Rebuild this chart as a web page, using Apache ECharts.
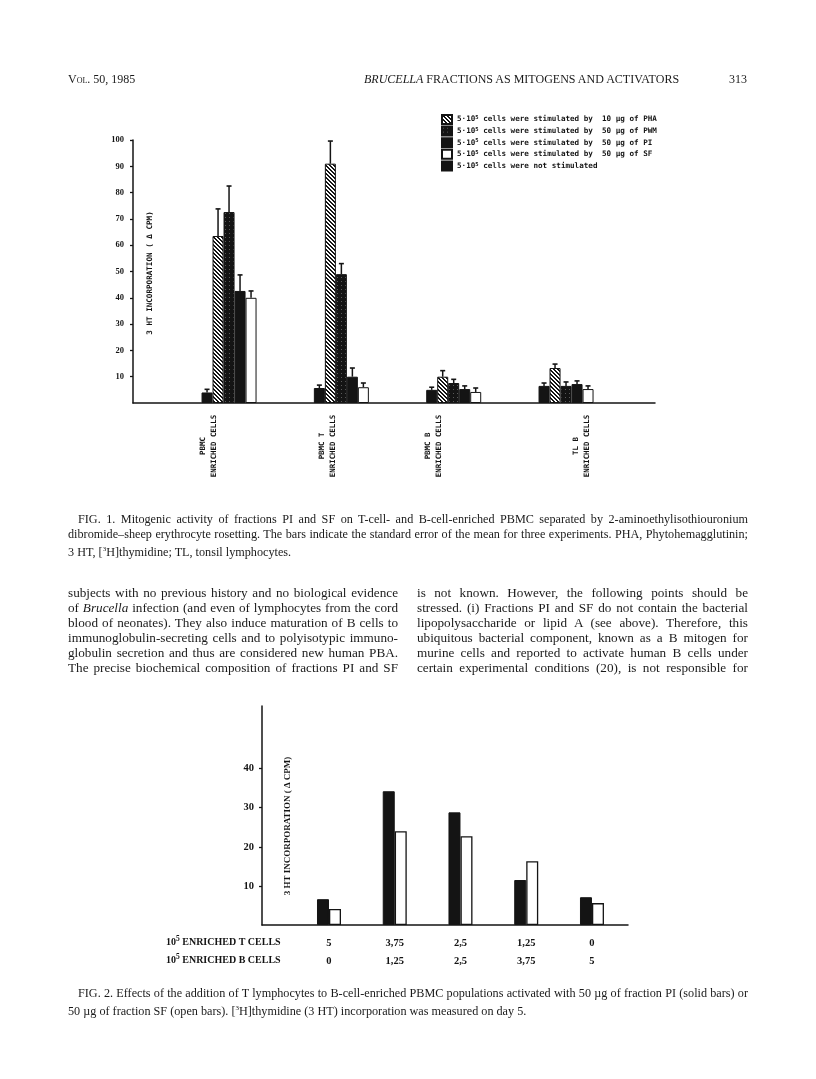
<!DOCTYPE html>
<html>
<head>
<meta charset="utf-8">
<script src="https://cdn.jsdelivr.net/npm/echarts@6/dist/echarts.min.js"></script>
<style>
	body { margin: 0; background: #fff; }
	#page { position: relative; width: 816px; height: 1079px; overflow: hidden; font-family: 'Liberation Serif', serif; color: #1a1a1a; }
	#chart { position: absolute; left: 0; top: 0; width: 816px; height: 1079px; }
	.t { position: absolute; white-space: nowrap; }
	.jl { text-align: justify; text-align-last: justify; white-space: nowrap; }
	.sc { font-variant: small-caps; }
</style>
</head>
<body>
<div id="page">
	<div id="chart"></div>

	<div class="t" style="left:68px;top:72px;font-size:12px;"><span class="sc">Vol</span>. 50, 1985</div>
	<div class="t" style="left:364px;top:72px;font-size:12px;"><i>BRUCELLA</i> FRACTIONS AS MITOGENS AND ACTIVATORS</div>
	<div class="t" style="left:729px;top:72px;font-size:12px;">313</div>

	<div style="position:absolute;left:68px;top:512px;width:680px;font-size:12.2px;line-height:15px;">
		<div class="jl" style="padding-left:10px;">FIG. 1. Mitogenic activity of fractions PI and SF on T-cell- and B-cell-enriched PBMC separated by 2-aminoethylisothiouronium</div>
		<div class="jl">dibromide–sheep erythrocyte rosetting. The bars indicate the standard error of the mean for three experiments. PHA, Phytohemagglutinin;</div>
		<div>3 HT, [<sup style="font-size:7px;">3</sup>H]thymidine; TL, tonsil lymphocytes.</div>
	</div>

	<div style="position:absolute;left:68px;top:585px;width:330px;font-size:13.2px;line-height:15px;">
		<div class="jl">subjects with no previous history and no biological evidence</div>
		<div class="jl">of <i>Brucella</i> infection (and even of lymphocytes from the cord</div>
		<div class="jl">blood of neonates). They also induce maturation of B cells to</div>
		<div class="jl">immunoglobulin-secreting cells and to polyisotypic immuno-</div>
		<div class="jl">globulin secretion and thus are considered new human PBA.</div>
		<div class="jl">The precise biochemical composition of fractions PI and SF</div>
	</div>
	<div style="position:absolute;left:417px;top:585px;width:331px;font-size:13.2px;line-height:15px;">
		<div class="jl">is not known. However, the following points should be</div>
		<div class="jl">stressed. (i) Fractions PI and SF do not contain the bacterial</div>
		<div class="jl">lipopolysaccharide or lipid A (see above). Therefore, this</div>
		<div class="jl">ubiquitous bacterial component, known as a B mitogen for</div>
		<div class="jl">murine cells and reported to activate human B cells under</div>
		<div class="jl">certain experimental conditions (20), is not responsible for</div>
	</div>

	<div style="position:absolute;left:68px;top:986px;width:680px;font-size:12.2px;line-height:15px;">
		<div class="jl" style="padding-left:10px;">FIG. 2. Effects of the addition of T lymphocytes to B-cell-enriched PBMC populations activated with 50 µg of fraction PI (solid bars) or</div>
		<div>50 µg of fraction SF (open bars). [<sup style="font-size:7px;">3</sup>H]thymidine (3 HT) incorporation was measured on day 5.</div>
	</div>
</div>
<script>
	// fig 1 : groups and bar heights (with top of error bar)
	const groups1 = ['PBMC\nENRICHED CELLS', 'PBMC T\nENRICHED CELLS', 'PBMC B\nENRICHED CELLS', 'TL B\nENRICHED CELLS'];
	const notStim = [4, 5.7, 5, 6.5];
	const notStimErr = [5.2, 6.8, 6, 7.6];
	const pha = [63.5, 91, 10, 13.3];
	const phaErr = [73.8, 99.6, 12.3, 14.8];
	const pwm = [72.6, 49, 7.6, 6.5];
	const pwmErr = [82.5, 53, 9, 8];
	const pi = [42.6, 10, 5.3, 7.2];
	const piErr = [48.7, 13.3, 6.5, 8.4];
	const sf = [40, 6, 4.2, 5.3];
	const sfErr = [42.6, 7.6, 5.7, 6.5];
	const yTicks1 = [10, 20, 30, 40, 50, 60, 70, 80, 90, 100];

	// fig 2
	const tCells = ['5', '3,75', '2,5', '1,25', '0'];
	const bCells = ['0', '1,25', '2,5', '3,75', '5'];
	const piBars = [6.6, 34.2, 28.8, 11.5, 7.1];
	const sfBars = [4.1, 24.0, 22.7, 16.3, 5.6];
	const yTicks2 = [10, 20, 30, 40];

	const legendText = {
		PHA: 'cells were stimulated by  10 µg of PHA',
		PWM: 'cells were stimulated by  50 µg of PWM',
		PI: 'cells were stimulated by  50 µg of PI',
		SF: 'cells were stimulated by  50 µg of SF',
		NS: 'cells were not stimulated'
	};
	const yName = '3 HT INCORPORATION ( Δ CPM)';

	// the pasted-up group labels of fig 1 do not sit exactly under their bars
	const labelShift1 = [-0.18, -0.12, -0.18, 0.14];

	const INK = '#141414';
	const MONO = 'DejaVu Sans Mono';
	const SERIF = 'Liberation Serif';
	const BAR1 = 11;
	const BAR2 = 12;

	function pattern(kind) {
		const c = document.createElement('canvas');
		c.width = 4;
		c.height = 4;
		const g = c.getContext('2d');
		if (kind == 'hatch') {
			g.fillStyle = '#fff';
			g.fillRect(0, 0, 4, 4);
			g.fillStyle = INK;
			for (let i = 0; i < 4; i++) {
				g.fillRect(i, i, 1, 1);
				g.fillRect((i + 1) % 4, i, 1, 1);
			}
		} else {
			g.fillStyle = INK;
			g.fillRect(0, 0, 4, 4);
			g.fillStyle = '#5a5a5a';
			g.fillRect(1, 1, 1, 1);
		}
		return { image: c, repeat: 'repeat' };
	}

	const fig1 = [
		{ name: 'NS', vals: notStim, errs: notStimErr, color: INK },
		{ name: 'PHA', vals: pha, errs: phaErr, color: pattern('hatch') },
		{ name: 'PWM', vals: pwm, errs: pwmErr, color: pattern('grid') },
		{ name: 'PI', vals: pi, errs: piErr, color: INK },
		{ name: 'SF', vals: sf, errs: sfErr, color: '#fff' }
	];

	function errBar(k) {
		return function (params, api) {
			const p0 = api.coord([api.value(0), api.value(1)]);
			const p1 = api.coord([api.value(0), api.value(2)]);
			const x = p0[0] + (k - 2) * BAR1;
			return {
				type: 'group',
				children: [
					{ type: 'line', shape: { x1: x, y1: p0[1], x2: x, y2: p1[1] }, style: { stroke: INK, lineWidth: 1.5 } },
					{ type: 'line', shape: { x1: x - 2.5, y1: p1[1], x2: x + 2.5, y2: p1[1] }, style: { stroke: INK, lineWidth: 1.6 } }
				]
			};
		};
	}

	const series = [];
	fig1.forEach(function (s, k) {
		series.push({
			name: s.name,
			type: 'bar',
			xAxisIndex: 0,
			yAxisIndex: 0,
			barWidth: BAR1,
			barGap: '0%',
			data: s.vals.map((v, i) => [i, v]),
			itemStyle: { color: s.color, borderColor: INK, borderWidth: 1 },
			emphasis: { disabled: true }
		});
		series.push({
			type: 'custom',
			xAxisIndex: 0,
			yAxisIndex: 0,
			z: 5,
			data: s.errs.map((e, i) => [i, s.vals[i], e]),
			renderItem: errBar(k)
		});
	});
	series.push({
		name: 'PI2', type: 'bar', xAxisIndex: 1, yAxisIndex: 1, barWidth: BAR2, barGap: '0%',
		data: piBars.map((v, i) => [i, v]),
		itemStyle: { color: INK, borderColor: INK, borderWidth: 1 }
	});
	series.push({
		name: 'SF2', type: 'bar', xAxisIndex: 1, yAxisIndex: 1, barWidth: BAR2, barGap: '0%',
		data: sfBars.map((v, i) => [i, v]),
		itemStyle: { color: '#fff', borderColor: INK, borderWidth: 1.3 }
	});

	const axisLine = { show: true, onZero: false, lineStyle: { color: INK, width: 1.5 } };
	const labelAt1 = groups1.map((g, i) => i + labelShift1[i]);

	const chart = echarts.init(document.getElementById('chart'), null, { renderer: 'canvas' });
	chart.setOption({
		backgroundColor: '#fff',
		animation: false,
		grid: [
			{ left: 133, right: 161, top: 140, bottom: 676 },
			{ left: 262, right: 188, top: 706, bottom: 154 }
		],
		legend: {
			data: ['PHA', 'PWM', 'PI', 'SF', 'NS'],
			orient: 'vertical',
			left: 436,
			top: 109,
			itemGap: 0.6,
			itemWidth: 10,
			itemHeight: 9,
			icon: 'rect',
			selectedMode: false,
			formatter: n => '{t|5·10}{s|5}{t| ' + legendText[n] + '}',
			textStyle: {
				color: INK,
				rich: {
					t: { fontFamily: MONO, fontWeight: 'bold', fontSize: 7.6, color: INK, lineHeight: 9.5 },
					s: { fontFamily: MONO, fontWeight: 'bold', fontSize: 5.5, color: INK, lineHeight: 5, verticalAlign: 'top' }
				}
			}
		},
		xAxis: [
			{
				type: 'value', gridIndex: 0, min: -0.855, max: 3.792,
				axisLine: axisLine, axisTick: { show: false }, splitLine: { show: false },
				axisLabel: {
					customValues: labelAt1,
					rotate: 90,
					margin: 13,
					formatter: v => groups1[Math.abs(Math.round(v))].split('\n').map(l => '{a|' + l + '}').join('\n'),
					rich: { a: { fontFamily: MONO, fontWeight: 'bold', fontSize: 7.4, color: INK, width: 60, align: 'center', lineHeight: 11 } }
				}
			},
			{
				type: 'value', gridIndex: 1, min: -1.019, max: 4.548,
				axisLine: axisLine, axisTick: { show: false }, splitLine: { show: false },
				axisLabel: {
					customValues: [0, 1, 2, 3, 4],
					margin: 9,
					lineHeight: 18,
					fontFamily: SERIF, fontWeight: 'bold', fontSize: 10.5, color: INK,
					formatter: v => tCells[v] + '\n' + bCells[v]
				}
			}
		],
		yAxis: [
			{
				type: 'value', gridIndex: 0, min: 0, max: 100, interval: 10,
				axisLine: axisLine, splitLine: { show: false },
				axisTick: { show: true, length: 3, customValues: yTicks1, lineStyle: { color: INK, width: 1.3 } },
				axisLabel: { customValues: yTicks1, margin: 9, fontFamily: SERIF, fontWeight: 'bold', fontSize: 8.5, color: INK }
			},
			{
				type: 'value', gridIndex: 1, min: 0, max: 56,
				axisLine: axisLine, splitLine: { show: false },
				axisTick: { show: true, length: 3, customValues: yTicks2, lineStyle: { color: INK, width: 1.3 } },
				axisLabel: { customValues: yTicks2, margin: 8, fontFamily: SERIF, fontWeight: 'bold', fontSize: 10.5, color: INK }
			}
		],
		graphic: [
			{
				type: 'text', x: 150, y: 273, rotation: Math.PI / 2,
				style: { text: yName, align: 'center', verticalAlign: 'middle', fontFamily: MONO, fontWeight: 'bold', fontSize: 7.6, fill: INK }
			},
			{
				type: 'text', x: 288, y: 826, rotation: Math.PI / 2,
				style: { text: yName, align: 'center', verticalAlign: 'middle', fontFamily: SERIF, fontWeight: 'bold', fontSize: 9, fill: INK }
			},
			{
				type: 'text', left: 166, top: 935,
				style: {
					text: '{n|10}{s|5}{n| ENRICHED T CELLS}',
					rich: {
						n: { fontFamily: SERIF, fontWeight: 'bold', fontSize: 10, fill: INK },
						s: { fontFamily: SERIF, fontWeight: 'bold', fontSize: 7.5, fill: INK, padding: [0, 0, 6, 0] }
					}
				}
			},
			{
				type: 'text', left: 166, top: 953,
				style: {
					text: '{n|10}{s|5}{n| ENRICHED B CELLS}',
					rich: {
						n: { fontFamily: SERIF, fontWeight: 'bold', fontSize: 10, fill: INK },
						s: { fontFamily: SERIF, fontWeight: 'bold', fontSize: 7.5, fill: INK, padding: [0, 0, 6, 0] }
					}
				}
			}
		],
		series: series
	});
</script>
</body>
</html>
